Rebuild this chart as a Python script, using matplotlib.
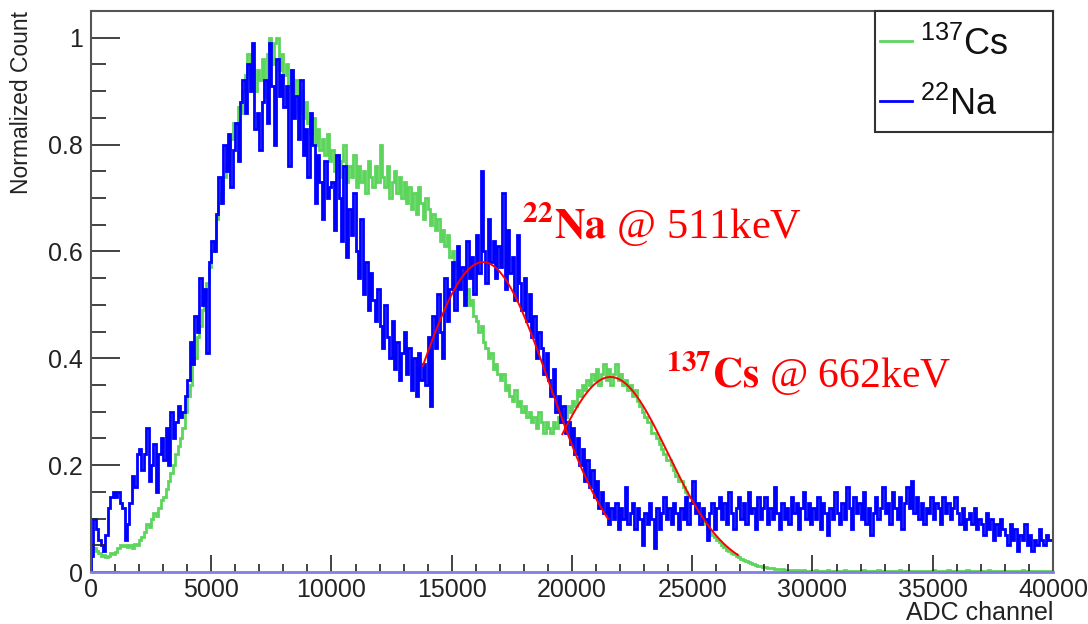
import numpy as np
import matplotlib
matplotlib.use('Agg')
import matplotlib.pyplot as plt
from matplotlib.patches import Rectangle

plt.rcParams['font.family'] = ['Liberation Sans', 'DejaVu Sans']
plt.rcParams['mathtext.fontset'] = 'custom'
plt.rcParams['mathtext.rm'] = 'Liberation Sans'

# histogram binning (ADC channels)
bin_width = 100
n_bins = 400

# 137Cs spectrum, normalized counts per bin (one row = 1000 channels)
cs_counts = [
    0.05, 0.045, 0.04, 0.035, 0.03, 0.032, 0.028, 0.03, 0.035, 0.033,
    0.038, 0.045, 0.05, 0.048, 0.05, 0.046, 0.05, 0.045, 0.052, 0.05,
    0.06, 0.065, 0.075, 0.09, 0.085, 0.10, 0.11, 0.105, 0.12, 0.135,
    0.14, 0.155, 0.17, 0.185, 0.20, 0.22, 0.235, 0.25, 0.27, 0.30,
    0.33, 0.35, 0.39, 0.40, 0.44, 0.46, 0.49, 0.51, 0.54, 0.57,
    0.60, 0.62, 0.66, 0.69, 0.71, 0.74, 0.76, 0.79, 0.81, 0.84,
    0.84, 0.87, 0.86, 0.90, 0.93, 0.97, 0.92, 0.95, 0.90, 0.94,
    0.92, 0.96, 0.89, 0.97, 1.00, 0.95, 0.99, 1.00, 0.94, 0.97,
    0.93, 0.95, 0.91, 0.94, 0.89, 0.92, 0.86, 0.90, 0.85, 0.88,
    0.84, 0.82, 0.85, 0.80, 0.83, 0.79, 0.81, 0.78, 0.82, 0.77,
    0.79, 0.75, 0.78, 0.74, 0.77, 0.80, 0.73, 0.76, 0.74, 0.78,
    0.72, 0.76, 0.73, 0.75, 0.71, 0.77, 0.74, 0.72, 0.76, 0.73,
    0.80, 0.74, 0.72, 0.76, 0.70, 0.73, 0.75, 0.71, 0.74, 0.70,
    0.73, 0.69, 0.72, 0.68, 0.71, 0.67, 0.72, 0.69, 0.66, 0.70,
    0.68, 0.65, 0.67, 0.64, 0.66, 0.62, 0.64, 0.61, 0.63, 0.59,
    0.60, 0.57, 0.58, 0.55, 0.56, 0.52, 0.53, 0.50, 0.51, 0.48,
    0.47, 0.45, 0.46, 0.43, 0.42, 0.40, 0.41, 0.38, 0.39, 0.37,
    0.36, 0.37, 0.34, 0.35, 0.33, 0.32, 0.34, 0.31, 0.32, 0.30,
    0.31, 0.29, 0.30, 0.28, 0.29, 0.27, 0.30, 0.28, 0.26, 0.28,
    0.27, 0.26, 0.28, 0.27, 0.29, 0.28, 0.30, 0.29, 0.31, 0.30,
    0.32, 0.31, 0.34, 0.33, 0.35, 0.34, 0.36, 0.35, 0.37, 0.36,
    0.38, 0.35, 0.37, 0.39, 0.36, 0.38, 0.35, 0.37, 0.39, 0.36,
    0.37, 0.35, 0.36, 0.34, 0.35, 0.33, 0.34, 0.32, 0.31, 0.30,
    0.29, 0.28, 0.28, 0.26, 0.26, 0.25, 0.24, 0.23, 0.22, 0.21,
    0.21, 0.20, 0.19, 0.18, 0.17, 0.17, 0.16, 0.15, 0.14, 0.14,
    0.13, 0.12, 0.11, 0.105, 0.095, 0.09, 0.08, 0.075, 0.07, 0.065,
    0.06, 0.056, 0.05, 0.047, 0.042, 0.04, 0.036, 0.033, 0.03, 0.028,
    0.025, 0.023, 0.02, 0.019, 0.017, 0.015, 0.014, 0.012, 0.011, 0.010,
    0.009, 0.008, 0.008, 0.007, 0.006, 0.006, 0.005, 0.005, 0.004, 0.004,
    0.004, 0.003, 0.003, 0.003, 0.003, 0.002, 0.003, 0.002, 0.002, 0.002,
    0.002, 0.003, 0.002, 0.002, 0.001, 0.002, 0.003, 0.002, 0.002, 0.002,
    0.002, 0.002, 0.001, 0.003, 0.002, 0.002, 0.002, 0.001, 0.002, 0.002,
    0.002, 0.004, 0.002, 0.002, 0.001, 0.002, 0.002, 0.003, 0.002, 0.002,
    0.002, 0.002, 0.001, 0.002, 0.002, 0.002, 0.003, 0.002, 0.001, 0.002,
    0.002, 0.002, 0.002, 0.001, 0.002, 0.002, 0.002, 0.002, 0.001, 0.002,
    0.003, 0.002, 0.002, 0.001, 0.002, 0.002, 0.003, 0.002, 0.002, 0.001,
    0.002, 0.001, 0.002, 0.002, 0.003, 0.002, 0.002, 0.001, 0.002, 0.002,
    0.001, 0.002, 0.002, 0.003, 0.002, 0.001, 0.002, 0.002, 0.002, 0.001,
    0.002, 0.002, 0.001, 0.002, 0.002, 0.001, 0.002, 0.003, 0.002, 0.002,
    0.001, 0.002, 0.002, 0.001, 0.002, 0.002, 0.001, 0.002, 0.002, 0.002,
]

# 22Na spectrum, normalized counts per bin (one row = 1000 channels)
na_counts = [
    0.03, 0.10, 0.08, 0.06, 0.05, 0.04, 0.07, 0.12, 0.14, 0.15,
    0.14, 0.15, 0.13, 0.12, 0.06, 0.09, 0.13, 0.18, 0.16, 0.22,
    0.23, 0.19, 0.22, 0.27, 0.17, 0.20, 0.24, 0.15, 0.22, 0.25,
    0.21, 0.27, 0.20, 0.30, 0.25, 0.28, 0.31, 0.29, 0.30, 0.33,
    0.36, 0.43, 0.39, 0.48, 0.45, 0.55, 0.50, 0.53, 0.41, 0.58,
    0.62, 0.60, 0.67, 0.74, 0.69, 0.80, 0.75, 0.82, 0.72, 0.79,
    0.84, 0.77, 0.88, 0.92, 0.86, 0.95, 0.90, 0.99, 0.83, 0.86,
    0.79, 0.88, 0.92, 0.84, 0.99, 0.91, 0.80, 0.96, 0.89, 0.93,
    0.87, 0.91, 0.76, 0.94, 0.85, 0.89, 0.81, 0.92, 0.78, 0.83,
    0.74, 0.86, 0.80, 0.69, 0.78, 0.73, 0.66, 0.77, 0.70, 0.72,
    0.73, 0.64, 0.78, 0.70, 0.62, 0.76, 0.59, 0.68, 0.63, 0.71,
    0.60, 0.55, 0.66, 0.52, 0.58, 0.49, 0.56, 0.51, 0.47, 0.53,
    0.46, 0.42, 0.50, 0.44, 0.40, 0.47, 0.38, 0.43, 0.36, 0.41,
    0.45, 0.37, 0.42, 0.34, 0.40, 0.33, 0.41, 0.36, 0.39, 0.35,
    0.44, 0.31, 0.48, 0.42, 0.52, 0.45, 0.40, 0.55, 0.47, 0.53,
    0.58, 0.49, 0.61, 0.53, 0.57, 0.50, 0.62, 0.55, 0.59, 0.52,
    0.63, 0.56, 0.75, 0.60, 0.54, 0.66, 0.58, 0.62, 0.55, 0.61,
    0.57, 0.71, 0.53, 0.64, 0.56, 0.59, 0.51, 0.63, 0.54, 0.49,
    0.55, 0.47, 0.52, 0.44, 0.48, 0.40, 0.45, 0.42, 0.37, 0.41,
    0.36, 0.33, 0.38, 0.30, 0.33, 0.28, 0.31, 0.26, 0.28, 0.24,
    0.27, 0.22, 0.25, 0.20, 0.23, 0.17, 0.21, 0.16, 0.19, 0.14,
    0.17, 0.12, 0.15, 0.11, 0.13, 0.09, 0.12, 0.10, 0.13, 0.08,
    0.12, 0.10, 0.16, 0.09, 0.11, 0.13, 0.08, 0.12, 0.10, 0.05,
    0.11, 0.09, 0.13, 0.10, 0.045, 0.12, 0.08, 0.11, 0.14, 0.10,
    0.12, 0.09, 0.13, 0.11, 0.08, 0.12, 0.10, 0.14, 0.09, 0.13,
    0.17, 0.11, 0.13, 0.09, 0.12, 0.10, 0.06, 0.11, 0.13, 0.08,
    0.12, 0.14, 0.10, 0.13, 0.09, 0.15, 0.11, 0.08, 0.12, 0.14,
    0.10, 0.13, 0.09, 0.15, 0.11, 0.12, 0.08, 0.14, 0.10, 0.12,
    0.14, 0.09, 0.12, 0.10, 0.16, 0.11, 0.08, 0.13, 0.10, 0.12,
    0.09, 0.14, 0.11, 0.13, 0.08, 0.12, 0.15, 0.10, 0.13, 0.09,
    0.12, 0.10, 0.14, 0.08, 0.13, 0.11, 0.07, 0.12, 0.10, 0.15,
    0.11, 0.09, 0.13, 0.10, 0.16, 0.12, 0.08, 0.14, 0.11, 0.13,
    0.10, 0.15, 0.09, 0.12, 0.07, 0.11, 0.14, 0.10, 0.12, 0.16,
    0.11, 0.13, 0.09, 0.15, 0.12, 0.10, 0.14, 0.08, 0.13, 0.16,
    0.12, 0.17, 0.11, 0.14, 0.10, 0.13, 0.09, 0.12, 0.11, 0.14,
    0.10, 0.13, 0.12, 0.09, 0.14, 0.11, 0.13, 0.10, 0.12, 0.14,
    0.11, 0.09, 0.12, 0.08, 0.10, 0.11, 0.09, 0.12, 0.08, 0.10,
    0.09, 0.07, 0.11, 0.08, 0.10, 0.06, 0.09, 0.07, 0.10, 0.08,
    0.07, 0.05, 0.09, 0.06, 0.08, 0.04, 0.07, 0.06, 0.09, 0.05,
    0.07, 0.04, 0.06, 0.05, 0.08, 0.06, 0.05, 0.07, 0.06, 0.06,
]

# gaussian fits of the photopeaks: (amplitude, mean, sigma, range)
na_fit = (0.58, 16300, 2770, (13800, 21500))
cs_fit = (0.365, 21600, 2400, (19600, 26900))

x_ticks = [0, 5000, 10000, 15000, 20000, 25000, 30000, 35000, 40000]
y_ticks = [0, 0.2, 0.4, 0.6, 0.8, 1.0]
y_labels = ['0', '0.2', '0.4', '0.6', '0.8', '1']

green = '#5dd55d'
blue = '#0000ff'
red = '#ff0000'


def gaus(x, p):
    amp, mean, sigma, rng = p
    return amp * np.exp(-0.5 * ((x - mean) / sigma) ** 2)


fig = plt.figure(figsize=(10.88, 6.24), dpi=100)
ax = fig.add_axes([0.0836, 0.0833, 0.8842, 0.8991])

edges = np.arange(n_bins + 1) * bin_width
ax.stairs(cs_counts, edges, color=green, lw=2.0, baseline=0)
ax.stairs(na_counts, edges, color=blue, lw=2.0, baseline=0)

for p in (na_fit, cs_fit):
    xs = np.linspace(p[3][0], p[3][1], 200)
    ax.plot(xs, gaus(xs, p), color=red, lw=1.4)

ax.set_xlim(0, 40000)
ax.set_ylim(0, 1.05)
ax.set_xticks(x_ticks)
ax.set_xticks(np.arange(0, 40001, 1000), minor=True)
ax.set_yticks(y_ticks)
ax.set_yticklabels(y_labels)
ax.set_yticks(np.arange(0, 1.05, 0.05), minor=True)
ax.tick_params(axis='both', direction='in', labelsize=18, colors='#222222',
               top=False, right=False, which='both')
ax.tick_params(axis='y', which='major', length=21, width=1.2, pad=6)
ax.tick_params(axis='y', which='minor', length=11, width=1.2)
ax.tick_params(axis='x', which='major', length=12, width=1.2, pad=4)
ax.tick_params(axis='x', which='minor', length=6, width=1.2)

for s in ('top', 'right', 'left'):
    ax.spines[s].set_color('#555555')
    ax.spines[s].set_linewidth(1.5)
ax.spines['bottom'].set_color('#8080e0')
ax.spines['bottom'].set_linewidth(2)

ax.set_ylabel('Normalized Count', fontsize=16.5, loc='top', color='#222222')
ax.yaxis.set_label_coords(-0.060, 1.0)
ax.set_xlabel('ADC channel', fontsize=18, loc='right', color='#222222')
ax.xaxis.set_label_coords(1.0, -0.052)

# legend box in the top right corner
ax.add_patch(Rectangle((0.815, 0.784), 0.185, 0.216, transform=ax.transAxes,
                       facecolor='white', edgecolor='#333333', lw=1.5,
                       zorder=5, clip_on=False))
ax.plot([0.820, 0.853], [0.9465, 0.9465], transform=ax.transAxes,
        color=green, lw=2, zorder=6)
ax.plot([0.820, 0.853], [0.8396, 0.8396], transform=ax.transAxes,
        color=blue, lw=2, zorder=6)
ax.text(0.862, 0.921, r'$^{137}$Cs', transform=ax.transAxes, fontsize=26,
        va='baseline', zorder=6, color='#111111')
ax.text(0.862, 0.814, r'$^{22}$Na', transform=ax.transAxes, fontsize=26,
        va='baseline', zorder=6, color='#111111')

# photopeak annotations
ax.text(0.448, 0.596, r'$\mathbf{^{22}Na}$ @ 511keV', transform=ax.transAxes,
        fontsize=30.5, color=red, family='Liberation Serif',
        math_fontfamily='stix', va='baseline')
ax.text(0.598, 0.329, r'$\mathbf{^{137}Cs}$ @ 662keV', transform=ax.transAxes,
        fontsize=30, color=red, family='Liberation Serif',
        math_fontfamily='stix', va='baseline')

fig.savefig('out.png', dpi=100)
